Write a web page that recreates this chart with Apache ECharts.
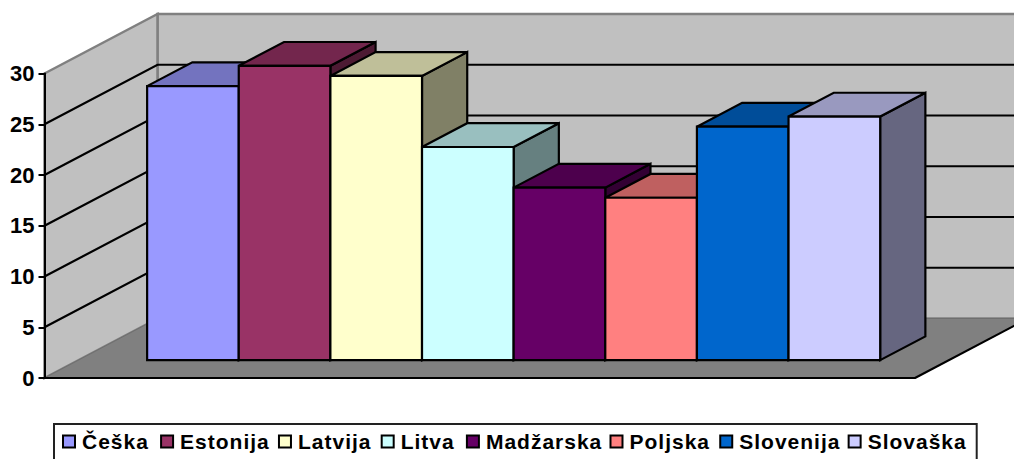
<!DOCTYPE html>
<html>
<head>
	<meta charset="utf-8" />
	<title>Chart</title>
	<script src="https://cdn.jsdelivr.net/npm/echarts@6/dist/echarts.min.js"></script>
	<style>
		html, body { margin: 0; padding: 0; background: #fff; overflow: hidden; }
		#main { width: 1014px; height: 459px; }
		/* legend text is spaced out in the original */
		#main svg text[style*="21px"] { letter-spacing: 1px; }
	</style>
</head>
<body>
	<div id="main"></div>
	<script>
		var categories = [''];
		var names = ['Češka', 'Estonija', 'Latvija', 'Litva', 'Madžarska', 'Poljska', 'Slovenija', 'Slovaška'];
		var values = [27, 29, 28, 21, 17, 16, 23, 24];
		var colors = ['#9999FF', '#993366', '#FFFFCC', '#CCFFFF', '#660066', '#FF8080', '#0066CC', '#CCCCFF'];
		var yTicks = [0, 5, 10, 15, 20, 25, 30];

		// fake 3D: depth of the whole plot in pixels, gap settings as in the spreadsheet
		var depthX = 113, depthY = -59.5;
		var gapWidth = 1.5, gapDepth = 1.5;
		var lineW = 2.2;

		function shade(hex, k) {
			var n = parseInt(hex.slice(1), 16);
			var r = Math.round((n >> 16 & 255) * k);
			var g = Math.round((n >> 8 & 255) * k);
			var b = Math.round((n & 255) * k);
			return 'rgb(' + r + ',' + g + ',' + b + ')';
		}

		function poly(points, fill, stroke, width) {
			return {
				type: 'polygon',
				shape: { points: points },
				style: { fill: fill, stroke: stroke || null, lineWidth: width || 0, lineJoin: 'miter' },
				silent: true
			};
		}

		function wallItem(params, api) {
			var band = api.size([1, 0])[0];
			var cx = api.coord([0, 0])[0];
			var x0 = cx - band / 2, x1 = cx + band / 2;
			var yBottom = api.coord([0, 0])[1];
			var yTop = api.coord([0, 30])[1];
			var kids = [];
			// back wall, side wall, floor
			kids.push(poly([[x0 + depthX, yTop + depthY], [x1 + depthX, yTop + depthY], [x1 + depthX, yBottom + depthY], [x0 + depthX, yBottom + depthY]], '#C0C0C0', '#808080', 2.5));
			kids.push(poly([[x0, yTop], [x0 + depthX, yTop + depthY], [x0 + depthX, yBottom + depthY], [x0, yBottom]], '#C0C0C0', '#808080', 2.5));
			kids.push(poly([[x0, yBottom], [x0 + depthX, yBottom + depthY], [x1 + depthX, yBottom + depthY], [x1, yBottom]], '#808080', '#6e6e6e', 1));
			yTicks.forEach(function (t) {
				if (t == 0 || t == 30) return;
				var y = api.coord([0, t])[1];
				kids.push({
					type: 'polyline',
					shape: { points: [[x0, y], [x0 + depthX, y + depthY], [x1 + depthX, y + depthY]] },
					style: { fill: null, stroke: '#000', lineWidth: lineW },
					silent: true
				});
			});
			// right edge of the floor
			kids.push({
				type: 'line',
				shape: { x1: x1, y1: yBottom, x2: x1 + depthX, y2: yBottom + depthY },
				style: { stroke: '#000', lineWidth: lineW },
				silent: true
			});
			return { type: 'group', children: kids };
		}

		function barItem(i) {
			return function (params, api) {
				var band = api.size([1, 0])[0];
				var cx = api.coord([0, 0])[0];
				var w = band / (names.length + gapWidth);
				var left = cx - band / 2 + w * gapWidth / 2 + i * w;
				var zoff = gapDepth / 2 / (1 + gapDepth); // front face position in the depth
				var zlen = 1 / (1 + gapDepth);
				var ox = depthX * zoff, oy = depthY * zoff;
				var dx = depthX * zlen, dy = depthY * zlen;
				var yb = api.coord([0, 0])[1] + oy;
				var yt = api.coord([0, api.value(1)])[1] + oy;
				var x0 = left + ox, x1 = x0 + w;
				var c = colors[i];
				return {
					type: 'group',
					children: [
						poly([[x1, yb], [x1 + dx, yb + dy], [x1 + dx, yt + dy], [x1, yt]], shade(c, 0.5), '#000', lineW),
						poly([[x0, yt], [x0 + dx, yt + dy], [x1 + dx, yt + dy], [x1, yt]], shade(c, 0.75), '#000', lineW),
						poly([[x0, yt], [x1, yt], [x1, yb], [x0, yb]], c, '#000', lineW)
					]
				};
			};
		}

		var series = [{
			name: 'walls',
			type: 'custom',
			silent: true,
			renderItem: wallItem,
			encode: { x: 0, y: 1 },
			data: [[categories[0], 30]]
		}];
		names.forEach(function (name, i) {
			series.push({
				name: name,
				type: 'custom',
				silent: true,
				renderItem: barItem(i),
				itemStyle: { color: colors[i] },
				encode: { x: 0, y: 1 },
				data: [[categories[0], values[i]]]
			});
		});

		var chart = echarts.init(document.getElementById('main'), null, { renderer: 'svg' });
		chart.setOption({
			animation: false,
			backgroundColor: '#fff',
			textStyle: { fontFamily: '"Liberation Sans", Arial, sans-serif' },
			grid: { left: 44.5, right: 99, top: 73.5, bottom: 81 },
			xAxis: {
				type: 'category',
				data: categories,
				z: 3,
				axisLine: { lineStyle: { color: '#000', width: 2 } },
				axisTick: { length: 7, lineStyle: { color: '#000', width: 1.5 } },
				axisLabel: { show: false },
				splitLine: { show: false }
			},
			yAxis: {
				type: 'value',
				min: 0,
				max: 30,
				interval: 5,
				z: 3,
				axisLine: { show: true, lineStyle: { color: '#000', width: 2 } },
				axisTick: { show: true, length: 6, lineStyle: { color: '#000', width: 2 } },
				axisLabel: { color: '#000', fontSize: 22, fontWeight: 'bold', margin: 10, fontFamily: '"Liberation Sans", Arial, sans-serif' },
				splitLine: { show: false }
			},
			legend: {
				data: names,
				orient: 'horizontal',
				left: 54,
				top: 424,
				icon: 'rect',
				itemWidth: 12,
				itemHeight: 12,
				itemGap: 16.2,
				padding: [7, 18, 12, 8],
				borderColor: '#222',
				borderWidth: 2,
				itemStyle: { borderColor: '#000', borderWidth: 2 },
				textStyle: { color: '#000', fontSize: 21, fontWeight: 'bold', padding: [0, 0, 0, 2], fontFamily: '"Liberation Sans", Arial, sans-serif' },
				selectedMode: false
			},
			series: series
		});
	</script>
</body>
</html>
